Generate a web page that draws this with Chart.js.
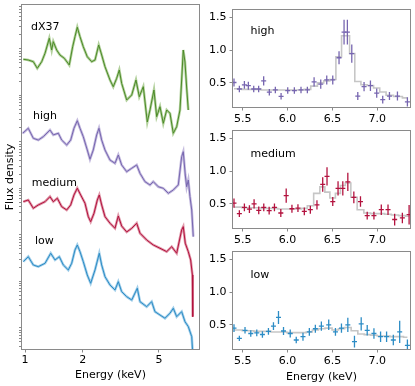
<!DOCTYPE html>
<html><head><meta charset="utf-8">
<script src="https://cdn.jsdelivr.net/npm/chart.js@4.4.1/dist/chart.umd.min.js"></script>
<style>
html,body{margin:0;padding:0;background:#fff;}
#wrap{position:relative;width:415px;height:386px;overflow:hidden;background:#fff;}
canvas{position:absolute;}
</style></head><body>
<div id="wrap">
<canvas id="cLeft" width="205" height="386" style="left:0;top:0;width:205px;height:386px"></canvas>
<canvas id="cHigh" width="210" height="125" style="left:205px;top:0;width:210px;height:125px"></canvas>
<canvas id="cMed" width="210" height="125" style="left:205px;top:121px;width:210px;height:125px"></canvas>
<canvas id="cLow" width="210" height="144" style="left:205px;top:242px;width:210px;height:144px"></canvas>
</div>
<script>
// ---------- Left panel: broad-band spectra (energy in keV, flux density arbitrary, offset) ----------
const dx37Energy = [0.98,1.04,1.105,1.159,1.222,1.272,1.339,1.378,1.405,1.463,1.522,1.603,1.702,1.773,1.823,1.874,1.936,2.014,2.113,2.228,2.319,2.424,2.512,2.614,2.776,2.887,3.009,3.104,3.194,3.393,3.604,3.793,3.947,4.141,4.345,4.488,4.708,4.864,5.061,5.266,5.486,5.707,5.938,6.185,6.435,6.567,6.695,6.833,6.975,7.11];
const dx37Flux = [6000,5790,5330,3840,5330,8090,16980,9500,14360,9500,7430,6310,4530,11200,18390,29300,18390,11200,6820,5330,5790,12190,7430,4160,2153,1545,2344,3530,1828,800,1026,2153,942,1545,269,488,1312,350,574,252,488,414,154,213,488,2153,9500,5250,1449,488];

const highEnergy = [0.973,1.04,1.105,1.173,1.246,1.35,1.405,1.492,1.554,1.65,1.731,1.801,1.874,1.936,2.014,2.113,2.183,2.271,2.366,2.432,2.512,2.614,2.776,2.948,3.067,3.194,3.393,3.604,3.825,3.981,4.227,4.488,4.669,4.959,5.266,5.592,5.938,6.306,6.567,6.695,6.858,6.975,7.11,7.256,7.41,7.549];
const highFlux = [154,197,120,110,130,181,142,154,110,86.1,110,197,287,197,130,67.3,42.5,67.3,142,197,110,67.3,41.0,34.8,52.5,32.0,23.0,27.2,32.0,21.2,14.0,11.9,14.0,10.9,10.1,7.88,9.29,11.9,48.3,61.8,19.5,10.9,15.2,6.67,3.45,0.919];

const mediumEnergy = [0.98,1.04,1.105,1.173,1.272,1.35,1.405,1.474,1.554,1.65,1.731,1.801,1.874,1.952,2.056,2.139,2.201,2.291,2.384,2.441,2.512,2.614,2.776,2.948,3.067,3.194,3.393,3.604,3.825,3.981,4.314,4.669,5.061,5.486,5.825,6.185,6.567,6.695,6.858,7.11,7.317,7.47,7.50];
const mediumFlux = [5.20,5.66,3.75,4.42,5.20,6.67,5.20,6.15,4.06,3.45,4.42,7.25,10.1,7.25,4.81,2.48,1.93,2.93,5.66,7.25,4.42,2.48,1.79,1.39,2.56,1.56,1.16,1.39,1.79,1.09,0.780,0.609,0.518,0.438,0.560,0.404,1.28,1.51,0.663,0.438,0.290,0.138,0.0175];

const lowEnergy = [0.98,1.04,1.105,1.173,1.272,1.362,1.434,1.51,1.585,1.682,1.752,1.823,1.874,1.936,2.014,2.113,2.201,2.319,2.441,2.512,2.614,2.776,2.948,3.067,3.194,3.393,3.604,3.853,3.981,4.314,4.58,4.765,5.061,5.374,5.707,5.938,6.185,6.567,6.833,7.11,7.41,7.495];
const lowFlux = [0.267,0.341,0.226,0.208,0.246,0.404,0.290,0.341,0.226,0.177,0.246,0.475,0.609,0.438,0.267,0.138,0.0915,0.177,0.404,0.226,0.127,0.0841,0.0656,0.0991,0.0604,0.0471,0.0400,0.0714,0.0368,0.0287,0.0368,0.0224,0.0190,0.0162,0.0207,0.0265,0.0175,0.0224,0.0137,0.0107,0.0065,0.003];

const leftXTicks = [1, 2, 5];

// ---------- Right panels: Fe K band ----------
const binEnergyHigh = [5.403,5.463,5.519,5.563,5.623,5.678,5.734,5.797,5.864,5.928,6.002,6.076,6.15,6.221,6.296,6.37,6.437,6.504,6.574,6.63,6.667,6.716,6.783,6.853,6.924,6.994,7.061,7.136,7.225,7.336];
const rateHigh = [0.505,0.406,0.47,0.456,0.406,0.406,0.53,0.357,0.392,0.293,0.382,0.382,0.392,0.392,0.515,0.48,0.544,0.544,0.884,1.278,1.278,0.948,0.298,0.441,0.456,0.342,0.244,0.298,0.298,0.209];
const errHigh = [0.06,0.05,0.06,0.06,0.05,0.05,0.07,0.05,0.05,0.05,0.05,0.05,0.05,0.05,0.07,0.07,0.07,0.07,0.10,0.19,0.19,0.14,0.06,0.07,0.08,0.07,0.06,0.06,0.07,0.07];
const modelHigh = [0.41,0.41,0.40,0.40,0.40,0.40,0.39,0.39,0.39,0.39,0.39,0.39,0.39,0.40,0.45,0.50,0.53,0.55,0.90,1.22,1.22,0.95,0.52,0.47,0.46,0.42,0.36,0.31,0.29,0.27];

const binEnergyMedium = [5.403,5.463,5.519,5.575,5.627,5.679,5.735,5.795,5.854,5.925,5.985,6.049,6.116,6.187,6.254,6.328,6.392,6.44,6.504,6.563,6.616,6.672,6.739,6.813,6.888,6.963,7.045,7.12,7.194,7.28,7.355];
const rateMedium = [0.51,0.35,0.445,0.42,0.50,0.40,0.445,0.395,0.445,0.36,0.626,0.425,0.435,0.385,0.41,0.485,0.797,0.92,0.535,0.736,0.736,0.837,0.60,0.535,0.32,0.32,0.41,0.41,0.26,0.284,0.334];
const errMedium = [0.07,0.05,0.06,0.06,0.07,0.06,0.06,0.06,0.06,0.06,0.11,0.06,0.06,0.06,0.06,0.07,0.11,0.14,0.07,0.11,0.11,0.14,0.09,0.08,0.06,0.06,0.08,0.08,0.09,0.08,0.15];
const modelMedium = [0.45,0.45,0.44,0.44,0.44,0.44,0.43,0.43,0.43,0.42,0.42,0.42,0.42,0.43,0.47,0.66,0.76,0.68,0.59,0.66,0.78,0.82,0.60,0.41,0.36,0.35,0.35,0.34,0.33,0.32,0.31];

const binEnergyLow = [5.403,5.463,5.526,5.59,5.657,5.72,5.787,5.843,5.899,5.955,6.03,6.097,6.172,6.243,6.31,6.377,6.459,6.534,6.601,6.672,6.746,6.821,6.888,6.963,7.037,7.104,7.179,7.25,7.336];
const rateLow = [0.45,0.293,0.416,0.367,0.377,0.352,0.40,0.48,0.613,0.406,0.367,0.268,0.318,0.392,0.44,0.48,0.50,0.392,0.45,0.50,0.244,0.515,0.416,0.367,0.318,0.318,0.268,0.392,0.185];
const errLow = [0.06,0.04,0.05,0.05,0.05,0.05,0.05,0.06,0.10,0.06,0.06,0.05,0.06,0.06,0.06,0.07,0.08,0.06,0.07,0.11,0.09,0.10,0.08,0.08,0.08,0.08,0.08,0.17,0.09];
const modelLow = [0.42,0.42,0.41,0.41,0.40,0.40,0.40,0.39,0.39,0.39,0.38,0.38,0.38,0.39,0.42,0.44,0.45,0.42,0.44,0.46,0.41,0.36,0.35,0.34,0.33,0.33,0.32,0.32,0.31];

const binHalfWidth = 0.028;
const rightXTicks = [5.5, 6.0, 6.5, 7.0];
const rightYTicks = [0.5, 1.0, 1.5];

// ---------- styling ----------
const C = {
  green: '#4b8a27', greenBand: '#b2d09c',
  purple: '#7766b0', purpleBand: '#c4bbde',
  red: '#b3123e', redBand: '#e09aab',
  blue: '#2c8cc5', blueBand: '#a3cfea',
  model: '#c6c6c6', axis: '#8a8a8a'
};
Chart.defaults.font.family = "'DejaVu Sans', sans-serif";
Chart.defaults.font.size = 11;
Chart.defaults.color = '#000';
Chart.defaults.animation = false;
Chart.defaults.plugins.legend.display = false;
Chart.defaults.plugins.tooltip.enabled = false;

const framePlugin = {
  id: 'frame',
  afterDraw(chart) {
    const a = chart.chartArea, ctx = chart.ctx;
    ctx.save();
    ctx.strokeStyle = C.axis; ctx.lineWidth = 1;
    ctx.strokeRect(Math.round(a.left) - 0.5, Math.round(a.top) - 0.5,
                   Math.round(a.right - a.left) + 1, Math.round(a.bottom - a.top) + 1);
    ctx.restore();
  }
};
function textPlugin(items) {
  return {
    id: 'panelText',
    afterDraw(chart) {
      const a = chart.chartArea, ctx = chart.ctx;
      ctx.save();
      ctx.font = "11px 'DejaVu Sans', sans-serif";
      ctx.fillStyle = '#000'; ctx.textBaseline = 'middle'; ctx.textAlign = 'left';
      items.forEach(it => ctx.fillText(it.text, a.left + it.dx, a.top + it.dy));
      ctx.restore();
    }
  };
}
const errorBarPlugin = {
  id: 'errorBars',
  afterDatasetsDraw(chart) {
    const {ctx, chartArea: a} = chart;
    const xs = chart.scales.x, ys = chart.scales.y;
    ctx.save();
    ctx.beginPath(); ctx.rect(a.left, a.top, a.right - a.left, a.bottom - a.top); ctx.clip();
    chart.data.datasets.forEach(ds => {
      if (!ds.errY) return;
      ctx.strokeStyle = ds.borderColor; ctx.lineWidth = 1.3;
      ds.data.forEach((p, j) => {
        const px = xs.getPixelForValue(p.x), py = ys.getPixelForValue(p.y);
        const y1 = ys.getPixelForValue(p.y - ds.errY[j]), y2 = ys.getPixelForValue(p.y + ds.errY[j]);
        const x1 = xs.getPixelForValue(p.x - ds.errX), x2 = xs.getPixelForValue(p.x + ds.errX);
        ctx.beginPath();
        ctx.moveTo(px, y1); ctx.lineTo(px, y2);
        ctx.moveTo(x1, py); ctx.lineTo(x2, py);
        ctx.stroke();
      });
    });
    ctx.restore();
  }
};

function pts(xa, ya) { return xa.map((x, i) => ({x: x, y: ya[i]})); }
function spectrum(energy, flux, color, band) {
  const d = pts(energy, flux);
  return [
    {data: d, borderColor: band, borderWidth: 2.6, pointRadius: 0, tension: 0, order: 2},
    {data: d, borderColor: color, borderWidth: 1, pointRadius: 0, tension: 0, order: 1}
  ];
}

// ---------- left chart ----------
new Chart(document.getElementById('cLeft'), {
  type: 'line',
  data: {datasets: [
    ...spectrum(dx37Energy, dx37Flux, C.green, C.greenBand),
    ...spectrum(highEnergy, highFlux, C.purple, C.purpleBand),
    ...spectrum(mediumEnergy, mediumFlux, C.red, C.redBand),
    ...spectrum(lowEnergy, lowFlux, C.blue, C.blueBand)
  ]},
  options: {
    responsive: false, maintainAspectRatio: false,
    layout: {padding: {top: 5, right: 6, left: 0, bottom: 0}},
    scales: {
      x: {
        type: 'logarithmic', min: 0.9646, max: 8.087,
        afterBuildTicks: s => { s.ticks = leftXTicks.map(v => ({value: v})); },
        afterFit: s => { s.height = 37; },
        ticks: {autoSkip: false, maxRotation: 0, padding: 1.5, callback: v => String(v)},
        grid: {drawOnChartArea: false, drawTicks: true, tickLength: 3.5, tickColor: C.axis, color: C.axis},
        border: {display: false},
        title: {display: true, text: 'Energy (keV)', padding: {top: 0, bottom: 4.4}}
      },
      y: {
        type: 'logarithmic', min: 0.00353, max: 88300,
        afterBuildTicks: s => {
          const t = [];
          for (let e = -3; e <= 4; e++) for (let m = 1; m <= 9; m++) {
            const v = m * Math.pow(10, e);
            if (v >= s.min && v <= s.max) t.push({value: v});
          }
          s.ticks = t;
        },
        afterFit: s => { s.width = 22; },
        ticks: {display: false, autoSkip: false},
        grid: {drawOnChartArea: false, drawTicks: true, tickLength: 3, tickColor: C.axis, color: C.axis},
        border: {display: false},
        title: {display: true, text: 'Flux density', padding: {top: 3.4, bottom: 0}}
      }
    }
  },
  plugins: [framePlugin, textPlugin([
    {text: 'dX37', dx: 9, dy: 22},
    {text: 'high', dx: 11, dy: 111},
    {text: 'medium', dx: 9.7, dy: 177.7},
    {text: 'low', dx: 13, dy: 235.7}
  ])]
});

// ---------- right charts ----------
function fePanel(id, energy, rate, err, model, color, label, labelDy, showTitle, xHeight) {
  new Chart(document.getElementById(id), {
    type: 'line',
    data: {datasets: [
      {data: pts(energy, rate), borderColor: color, showLine: false, pointRadius: 0,
       errY: err, errX: binHalfWidth, order: 0},
      {data: pts(energy, model), borderColor: C.model, borderWidth: 1.6, pointRadius: 0,
       stepped: 'middle', order: 1}
    ]},
    options: {
      responsive: false, maintainAspectRatio: false,
      layout: {padding: {top: 6, right: 5, left: 0, bottom: 0}},
      scales: {
        x: {
          type: 'linear', min: 5.392, max: 7.365,
          afterBuildTicks: s => { s.ticks = rightXTicks.map(v => ({value: v})); },
          afterFit: s => { s.height = xHeight; },
          ticks: {autoSkip: false, maxRotation: 0, padding: 1.7, callback: v => v.toFixed(1)},
          grid: {drawOnChartArea: false, drawTicks: true, tickLength: 3.5, tickColor: C.axis, color: C.axis},
          border: {display: false},
          title: {display: showTitle, text: 'Energy (keV)', padding: {top: 0, bottom: 2.7}}
        },
        y: {
          type: 'linear', min: 0.13, max: 1.62,
          afterBuildTicks: s => { s.ticks = rightYTicks.map(v => ({value: v})); },
          afterFit: s => { s.width = 28; },
          ticks: {autoSkip: false, padding: 3.1, callback: v => v.toFixed(1)},
          grid: {drawOnChartArea: false, drawTicks: true, tickLength: 3.5, tickColor: C.axis, color: C.axis},
          border: {display: false}
        }
      }
    },
    plugins: [errorBarPlugin, framePlugin, textPlugin([{text: label, dx: 17.5, dy: labelDy}])]
  });
}
fePanel('cHigh', binEnergyHigh, rateHigh, errHigh, modelHigh, C.purple, 'high', 21, false, 18);
fePanel('cMed', binEnergyMedium, rateMedium, errMedium, modelMedium, C.red, 'medium', 23, false, 18);
fePanel('cLow', binEnergyLow, rateLow, errLow, modelLow, C.blue, 'low', 23.5, true, 37);
</script>
</body></html>
